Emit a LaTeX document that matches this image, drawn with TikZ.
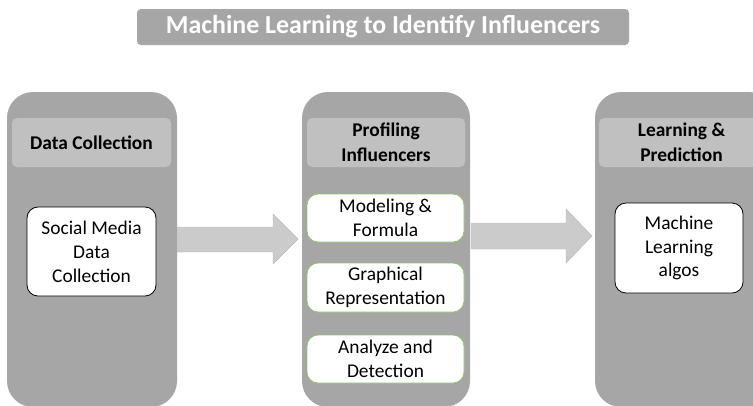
\documentclass[tikz,border=0pt]{standalone}
\usepackage{fontspec}
\setmainfont{Carlito}
\definecolor{panelgray}{HTML}{A6A6A6}
\definecolor{headgray}{HTML}{C0C0C0}
\definecolor{arrowgray}{HTML}{CBCBCB}
\definecolor{itemgreen}{HTML}{8CC864}
\begin{document}
\begin{tikzpicture}[x=1bp,y=-1bp,
  box/.style={anchor=north west, inner sep=0pt, outer sep=0pt},
  panel/.style={box, fill=panelgray, rounded corners=26bp},
  header/.style={box, fill=headgray, rounded corners=5bp, align=center,
    font=\bfseries\fontsize{19.5}{25}\selectfont},
  item/.style={box, fill=white, draw=black, line width=0.8bp, rounded corners=11bp,
    align=center, font=\fontsize{19.5}{24}\selectfont},
  greenitem/.style={item, draw=itemgreen},
  title/.style={box, fill=panelgray, rounded corners=4bp, text=white,
    font=\bfseries\fontsize{26}{30}\selectfont},
  blockarrow/.style={fill=arrowgray, draw=arrowgray!90!black, line width=0.4bp}]
\useasboundingbox (0,0) rectangle (753,405);
\clip (0,0) rectangle (753,405);

% title bar
\node[title, minimum width=492bp, minimum height=36bp] (title) at (137,9)
  {Machine Learning to Identify Influencers};

% three stage columns
\node[panel, minimum width=170bp, minimum height=315bp] (p1) at (7,92) {};
\node[panel, minimum width=168bp, minimum height=315bp] (p2) at (302,92) {};
\node[panel, minimum width=180bp, minimum height=315bp] (p3) at (595,92) {};

% column headers
\node[header, minimum width=159bp, minimum height=49bp] (h1) at (12,118) {Data Collection};
\node[header, minimum width=158bp, minimum height=49bp] (h2) at (307,118) {Profiling\\Influencers};
\node[header, minimum width=165bp, minimum height=49bp] (h3) at (599,118) {Learning \&\\Prediction};

% stage contents
\node[item, minimum width=129bp, minimum height=89bp] (s1) at (27,207) {Social Media\\Data\\Collection};
\node[greenitem, minimum width=157bp, minimum height=48bp] (m1) at (307,194) {Modeling \&\\Formula};
\node[greenitem, minimum width=157bp, minimum height=49bp] (m2) at (307,263) {Graphical\\Representation};
\node[greenitem, minimum width=157bp, minimum height=48bp] (m3) at (307,335) {Analyze and\\Detection};
\node[item, minimum width=128bp, minimum height=90bp] (l1) at (615,203) {Machine\\Learning\\algos};

% block arrows between the columns
\path[blockarrow] (177,227) -- (273,227) -- (273,214) -- (298,239) -- (273,264)
  -- (273,252) -- (177,252) -- cycle;
\path[blockarrow] (471,223) -- (566,223) -- (566,209) -- (592,236) -- (566,263)
  -- (566,249) -- (471,249) -- cycle;
\end{tikzpicture}
\end{document}
